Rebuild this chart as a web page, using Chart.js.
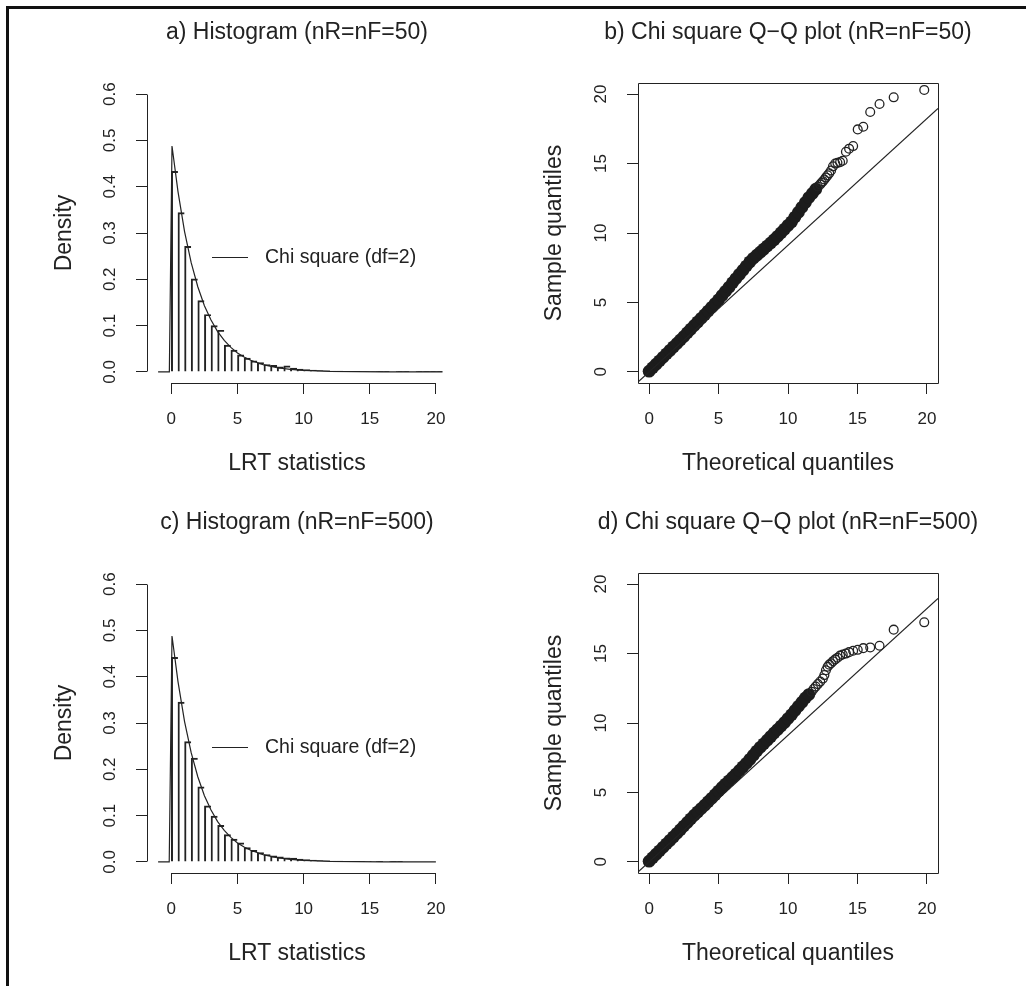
<!DOCTYPE html>
<html>
<head>
<meta charset="utf-8">
<title>LRT statistics: histograms and chi square Q-Q plots</title>
<script src="https://cdn.jsdelivr.net/npm/chart.js"></script>
<style>
  html, body { margin: 0; padding: 0; background: #fff; }
  #page { position: relative; width: 1026px; height: 986px; overflow: hidden; }
  #frame { position: absolute; left: 6px; top: 6px; right: -10px; bottom: -10px;
           border-left: 3px solid #111; border-top: 3px solid #111; }
  canvas { position: absolute; }
</style>
</head>
<body>
<div id="page">
  <div id="frame"></div>
  <canvas id="histA" width="574" height="493" style="left:0;top:0"></canvas>
  <canvas id="qqB" width="540" height="493" style="left:513px;top:0"></canvas>
  <canvas id="histC" width="574" height="493" style="left:0;top:490px"></canvas>
  <canvas id="qqD" width="540" height="493" style="left:513px;top:490px"></canvas>
</div>
<script>
// histogram bins start at 0, 0.5 wide
const binWidth = 0.5;
const histA = [0.433, 0.344, 0.271, 0.201, 0.154, 0.124, 0.100, 0.090, 0.058, 0.047,
  0.037, 0.030, 0.024, 0.020, 0.016, 0.014, 0.011, 0.013, 0.008, 0.006,
  0.005, 0.004, 0.003, 0.0025, 0.002, 0.0015, 0.0012, 0.001, 0.0008, 0.0006,
  0.0006, 0.0004, 0.0004, 0, 0.0002, 0.0002, 0, 0.0002, 0.0002, 0.0002, 0.0002];
const histC = [0.442, 0.345, 0.260, 0.224, 0.162, 0.121, 0.099, 0.079, 0.059, 0.049,
  0.041, 0.031, 0.025, 0.020, 0.016, 0.013, 0.011, 0.009, 0.008, 0.006,
  0.005, 0.004, 0.003, 0.0025, 0.002, 0.0015, 0.0012, 0.001, 0.0012, 0.001,
  0.001, 0.0002, 0, 0.0002, 0.0002];

// chi square (df=2) density curve as drawn
const curveXA = [-1, -0.15, 0.05, 0.5, 1, 1.5, 2, 2.5, 3, 3.5, 4, 4.5, 5, 5.5, 6, 7, 8, 9, 10, 12, 14, 16, 18, 20.5];
const curveYA = [0, 0, 0.488, 0.39, 0.303, 0.236, 0.184, 0.143, 0.112, 0.087, 0.068, 0.053, 0.041, 0.032, 0.025, 0.015, 0.009, 0.0055, 0.0034, 0.0012, 0.0005, 0.0002, 0.0001, 0];
const curveXC = [-1, -0.16, 0.05, 0.5, 1, 1.5, 2, 2.5, 3, 3.5, 4, 4.5, 5, 5.5, 6, 7, 8, 9, 10, 12, 14, 16, 18, 20];
const curveYC = [0, 0, 0.488, 0.39, 0.303, 0.236, 0.184, 0.143, 0.112, 0.087, 0.068, 0.053, 0.041, 0.032, 0.025, 0.015, 0.009, 0.0055, 0.0034, 0.0012, 0.0005, 0.0002, 0.0001, 0];

const statTicks = [0, 5, 10, 15, 20];
const densityTicks = [0, 0.1, 0.2, 0.3, 0.4, 0.5, 0.6];
const quantileTicks = [0, 5, 10, 15, 20];

// Q-Q panel b (nR=nF=50): solid run of points, then the separate circles
const denseXB = [0, 0.25, 0.5, 0.75, 1, 1.25, 1.5, 1.75, 2, 2.25, 2.5, 2.75, 3, 3.25, 3.5, 3.75,
  4, 4.25, 4.5, 4.75, 5, 5.25, 5.5, 5.75, 6, 6.25, 6.5, 6.75, 7, 7.25, 7.5, 7.75,
  8, 8.25, 8.5, 8.75, 9, 9.25, 9.5, 9.75, 10, 10.25, 10.5, 10.75, 11, 11.25, 11.5, 11.75, 12];
const denseYB = [0.05, 0.3, 0.55, 0.8, 1.05, 1.3, 1.55, 1.8, 2.05, 2.3, 2.55, 2.82, 3.08, 3.34, 3.6, 3.86,
  4.12, 4.38, 4.65, 4.92, 5.2, 5.5, 5.8, 6.1, 6.42, 6.72, 7.02, 7.32, 7.62, 7.92, 8.18, 8.4,
  8.62, 8.84, 9.06, 9.28, 9.52, 9.76, 10.02, 10.28, 10.55, 10.8, 11.15, 11.5, 11.85, 12.2, 12.55, 12.85, 13.15];
const openXB = [12.15, 12.32, 12.41, 12.51, 12.62, 12.73, 12.85, 12.97, 13.10, 13.24, 13.40, 13.56,
  13.75, 13.94, 14.17, 14.40, 14.69, 15.02, 15.42, 15.92, 16.59, 17.61, 19.81];
const openYB = [13.35, 13.5, 13.62, 13.72, 13.85, 14.0, 14.15, 14.3, 14.5, 14.8, 15.0, 15.05,
  15.1, 15.2, 15.85, 16.07, 16.26, 17.46, 17.65, 18.71, 19.29, 19.77, 20.3];

// Q-Q panel d (nR=nF=500)
const denseXD = [0, 0.25, 0.5, 0.75, 1, 1.25, 1.5, 1.75, 2, 2.25, 2.5, 2.75, 3, 3.25, 3.5, 3.75,
  4, 4.25, 4.5, 4.75, 5, 5.25, 5.5, 5.75, 6, 6.25, 6.5, 6.75, 7, 7.25, 7.5, 7.75,
  8, 8.25, 8.5, 8.75, 9, 9.25, 9.5, 9.75, 10, 10.25, 10.5, 10.75, 11, 11.25, 11.5];
const denseYD = [0.05, 0.3, 0.55, 0.8, 1.05, 1.3, 1.55, 1.8, 2.06, 2.32, 2.58, 2.84, 3.1, 3.36, 3.6, 3.84,
  4.08, 4.33, 4.58, 4.84, 5.1, 5.36, 5.6, 5.84, 6.08, 6.32, 6.58, 6.84, 7.1, 7.38, 7.68, 7.98,
  8.25, 8.5, 8.76, 9.02, 9.28, 9.53, 9.78, 10.04, 10.32, 10.6, 10.9, 11.2, 11.5, 11.8, 12.05];
const openXD = [11.70, 11.84, 11.99, 12.15, 12.32, 12.51, 12.62, 12.73, 12.85, 12.97, 13.10, 13.24,
  13.40, 13.56, 13.75, 13.94, 14.17, 14.40, 14.69, 15.02, 15.42, 15.92, 16.59, 17.61, 19.81];
const openYD = [12.25, 12.45, 12.62, 12.8, 12.98, 13.2, 13.45, 13.8, 14.05, 14.2, 14.3, 14.45,
  14.58, 14.7, 14.85, 14.93, 15.0, 15.1, 15.2, 15.27, 15.39, 15.44, 15.56, 16.72, 17.25];

// reference line across the Q-Q box
const refLineX = [-0.8, 20.8];
const refLineY = [-0.73, 18.97];

const ink = '#222';
Chart.defaults.font.family = "'Liberation Sans', Arial, Helvetica, sans-serif";
Chart.defaults.color = ink;

const pts = (xs, ys) => xs.map((x, i) => ({ x: x, y: ys[i] }));
const crisp = v => Math.round(v - 0.5) + 0.5;

// R style axes: line only between first and last tick, or a full box
const rAxes = {
  id: 'rAxes',
  afterDraw(chart, args, opts) {
    const { ctx, chartArea: a, scales: { x, y } } = chart;
    ctx.save();
    ctx.strokeStyle = ink;
    ctx.lineWidth = 1;
    ctx.beginPath();
    if (opts.box) {
      ctx.rect(crisp(a.left), crisp(a.top), Math.round(a.width), Math.round(a.height));
    } else {
      const xt = x.ticks, yt = y.ticks;
      ctx.moveTo(crisp(x.getPixelForValue(xt[0].value)), crisp(a.bottom));
      ctx.lineTo(crisp(x.getPixelForValue(xt[xt.length - 1].value)), crisp(a.bottom));
      ctx.moveTo(crisp(a.left), crisp(y.getPixelForValue(yt[0].value)));
      ctx.lineTo(crisp(a.left), crisp(y.getPixelForValue(yt[yt.length - 1].value)));
    }
    ctx.stroke();
    ctx.restore();
  }
};

// boxless key inside the plot
const keyLine = {
  id: 'keyLine',
  afterDatasetsDraw(chart, args, opts) {
    if (!opts.text) return;
    const { ctx, chartArea: a } = chart;
    const y = crisp(a.top + opts.dy);
    ctx.save();
    ctx.strokeStyle = ink;
    ctx.lineWidth = 1;
    ctx.beginPath();
    ctx.moveTo(a.left + opts.x0, y);
    ctx.lineTo(a.left + opts.x1, y);
    ctx.stroke();
    ctx.fillStyle = ink;
    ctx.font = "19.5px 'Liberation Sans', Arial, sans-serif";
    ctx.textBaseline = 'middle';
    ctx.fillText(opts.text, a.left + opts.tx, y);
    ctx.restore();
  }
};

function xAxis(min, max, tickVals, label) {
  return {
    type: 'linear', min: min, max: max, offset: false,
    afterBuildTicks: s => { s.ticks = tickVals.map(v => ({ value: v })); },
    afterFit: s => { s.height = 110; },
    grid: { display: true, drawOnChartArea: false, drawTicks: true, tickLength: 11, color: ink, lineWidth: 1, offset: false },
    border: { display: false },
    ticks: { color: ink, font: { size: 17 }, padding: 15, maxRotation: 0, autoSkip: false },
    title: { display: true, text: label, color: ink, font: { size: 23 }, padding: { top: 0, bottom: 15.2 } }
  };
}

function yAxis(min, max, tickVals, label, fmt, tickPad, width, titlePad) {
  return {
    type: 'linear', min: min, max: max,
    afterBuildTicks: s => { s.ticks = tickVals.map(v => ({ value: v })); },
    afterFit: s => { s.width = width; },
    grid: { display: true, drawOnChartArea: false, drawTicks: true, tickLength: 11, color: ink, lineWidth: 1 },
    border: { display: false },
    ticks: { color: ink, font: { size: 17 }, padding: tickPad, minRotation: 90, maxRotation: 90,
             crossAlign: 'center', autoSkip: false, callback: fmt },
    title: { display: true, text: label, color: ink, font: { size: 23 }, padding: { top: titlePad, bottom: 0 } }
  };
}

// empty right-hand axis, same width as the left one, so the title centres over the plot
function spacer(width) {
  return {
    type: 'linear', position: 'right', display: true,
    afterFit: s => { s.width = width; },
    grid: { display: false }, border: { display: false }, ticks: { display: false }
  };
}

function titleOpts(text) {
  return { display: true, text: text, color: ink,
           font: { size: 23, weight: 'normal' }, padding: { top: 9.2, bottom: 36.2 } };
}

function histChart(id, title, heights, curveX, curveY) {
  return new Chart(document.getElementById(id), {
    type: 'bar',
    data: {
      datasets: [
        { type: 'line', label: 'Chi square (df=2)', data: pts(curveX, curveY), borderColor: ink,
          borderWidth: 1.2, pointRadius: 0, tension: 0, order: 0 },
        { type: 'bar', label: 'LRT statistics',
          data: heights.map((h, i) => ({ x: (i + 0.5) * binWidth, y: h })),
          backgroundColor: 'rgba(255,255,255,0)', borderColor: ink,
          borderWidth: { top: 1.3, left: 1.3, right: 0, bottom: 0 }, borderSkipped: false,
          barPercentage: 1, categoryPercentage: 1, order: 1 }
      ]
    },
    options: {
      responsive: false, animation: false, events: [],
      layout: { padding: { left: 20, top: 10, right: 0, bottom: 0 } },
      scales: {
        x: xAxis(-1.84, 20.84, statTicks, 'LRT statistics'),
        y: yAxis(-0.024, 0.624, densityTicks, 'Density', v => v.toFixed(1), 13.5, 127, 31.2),
        pad: spacer(127)
      },
      plugins: {
        legend: { display: false },
        tooltip: { enabled: false },
        title: titleOpts(title),
        rAxes: { box: false },
        keyLine: { text: 'Chi square (df=2)', x0: 65, x1: 101, tx: 118, dy: 174 }
      }
    },
    plugins: [rAxes, keyLine]
  });
}

function qqChart(id, title, denseX, denseY, openX, openY) {
  return new Chart(document.getElementById(id), {
    type: 'scatter',
    data: {
      datasets: [
        { type: 'line', label: 'reference', data: pts(refLineX, refLineY), borderColor: ink,
          borderWidth: 1.1, pointRadius: 0, order: 0 },
        { label: 'upper quantiles', data: pts(openX, openY), pointStyle: 'circle', pointRadius: 4.4,
          pointBorderWidth: 1.3, pointBorderColor: ink, pointBackgroundColor: 'rgba(0,0,0,0)', order: 1 },
        { label: 'quantiles', data: pts(denseX, denseY), pointStyle: 'circle', pointRadius: 6.4,
          pointBorderWidth: 0, pointBorderColor: '#1c1c1c', pointBackgroundColor: '#1c1c1c', order: 2 }
      ]
    },
    options: {
      responsive: false, animation: false, events: [],
      layout: { padding: { left: 10, top: 10, right: 0, bottom: 0 } },
      scales: {
        x: xAxis(-0.8, 20.8, quantileTicks, 'Theoretical quantiles'),
        y: yAxis(-0.8, 20.8, quantileTicks, 'Sample quantiles', v => String(v), 15.8, 115, 18.2),
        pad: spacer(115)
      },
      plugins: {
        legend: { display: false },
        tooltip: { enabled: false },
        title: titleOpts(title),
        rAxes: { box: true },
        keyLine: {}
      }
    },
    plugins: [rAxes, keyLine]
  });
}

histChart('histA', 'a) Histogram (nR=nF=50)', histA, curveXA, curveYA);
qqChart('qqB', 'b) Chi square Q\u2212Q plot (nR=nF=50)', denseXB, denseYB, openXB, openYB);
histChart('histC', 'c) Histogram (nR=nF=500)', histC, curveXC, curveYC);
qqChart('qqD', 'd) Chi square Q\u2212Q plot (nR=nF=500)', denseXD, denseYD, openXD, openYD);
</script>
</body>
</html>
